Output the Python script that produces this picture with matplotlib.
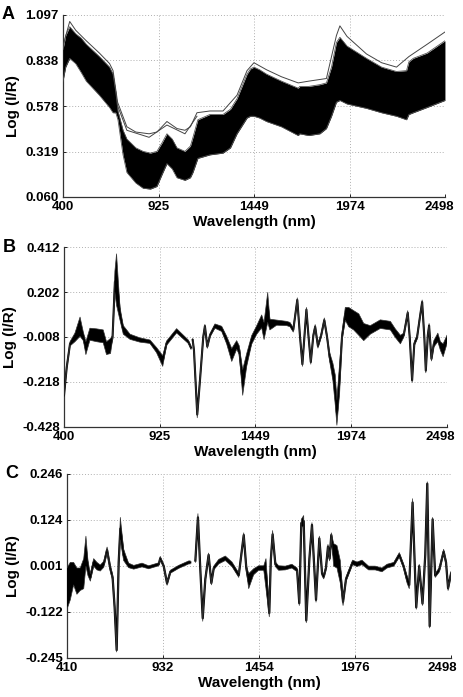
import numpy as np
import matplotlib
matplotlib.use("Agg")
import matplotlib.pyplot as plt
from matplotlib.transforms import ScaledTranslation

plt.rcParams['font.family'] = ['Liberation Sans', 'DejaVu Sans']
plt.rcParams['font.weight'] = 'bold'

# ---- panel A: raw spectra, read as band envelopes ----
a_wl = [400, 415, 437, 470, 500, 528, 600, 656, 675, 690, 702, 730, 751, 800, 840,
        880, 916, 945, 971, 1000, 1026, 1070, 1100, 1114, 1141, 1207, 1279, 1320,
        1356, 1411, 1430, 1449, 1480, 1518, 1600, 1692, 1701, 1750, 1811, 1847, 1875,
        1902, 1921, 1960, 2067, 2150, 2232, 2287, 2300, 2324, 2400, 2498]
a_upper = [0.90, 0.98, 1.03, 0.99, 0.965, 0.93, 0.86, 0.80, 0.76, 0.66, 0.55, 0.44,
           0.39, 0.34, 0.32, 0.31, 0.32, 0.37, 0.42, 0.39, 0.34, 0.32, 0.35, 0.40,
           0.50, 0.53, 0.53, 0.56, 0.62, 0.76, 0.79, 0.80, 0.785, 0.76, 0.72, 0.68,
           0.69, 0.69, 0.70, 0.71, 0.80, 0.94, 0.97, 0.92, 0.85, 0.80, 0.775, 0.78,
           0.83, 0.85, 0.88, 0.95]
a_lower = [0.72, 0.80, 0.85, 0.82, 0.77, 0.72, 0.64, 0.57, 0.54, 0.54, 0.50, 0.30,
           0.20, 0.14, 0.11, 0.105, 0.12, 0.19, 0.25, 0.22, 0.17, 0.155, 0.17, 0.20,
           0.28, 0.30, 0.31, 0.34, 0.42, 0.51, 0.52, 0.52, 0.51, 0.49, 0.46, 0.41,
           0.42, 0.41, 0.42, 0.45, 0.52, 0.60, 0.61, 0.59, 0.565, 0.54, 0.52, 0.50,
           0.53, 0.54, 0.57, 0.61]
# a few spectra lying above the main band
out_wl = [400, 437, 470, 528, 600, 656, 675, 700, 751, 800, 873, 916, 971, 1026,
          1070, 1100, 1136, 1207, 1279, 1356, 1411, 1449, 1518, 1600, 1692, 1750,
          1847, 1902, 1921, 1960, 2067, 2150, 2232, 2300, 2400, 2498]
out_1 = [0.92, 1.06, 1.01, 0.95, 0.88, 0.82, 0.78, 0.60, 0.46, 0.43, 0.42, 0.43,
         0.49, 0.45, 0.44, 0.46, 0.54, 0.55, 0.55, 0.64, 0.78, 0.825, 0.785, 0.745,
         0.71, 0.72, 0.735, 0.98, 1.035, 0.975, 0.875, 0.825, 0.80, 0.86, 0.93, 1.00]
out2_wl = [700, 751, 873, 971, 1070, 1136]
out_2 = [0.58, 0.44, 0.40, 0.47, 0.42, 0.52]

# ---- panel B: first pretreatment, centre line and half width ----
b_wl = [400, 415, 433, 460, 488, 506, 520, 542, 579, 615, 633, 655, 666, 679, 688,
        707, 725, 762, 816, 871, 907, 941, 962, 1017, 1081, 1096, 1100, 1105, 1112,
        1130, 1145, 1163, 1172, 1185, 1200, 1227, 1264, 1291, 1319, 1346, 1360, 1379,
        1401, 1428, 1456, 1483, 1496, 1516, 1528, 1565, 1620, 1638, 1656, 1678, 1693,
        1706, 1717, 1728, 1739, 1752, 1766, 1776, 1791, 1809, 1826, 1841, 1855, 1873,
        1886, 1895, 1910, 1923, 1941, 1960, 1987, 2015, 2042, 2078, 2133, 2188, 2215,
        2243, 2261, 2283, 2294, 2307, 2319, 2334, 2349, 2362, 2374, 2382, 2393, 2400,
        2413, 2426, 2448, 2462, 2477, 2498]
b_mid = [-0.28, -0.15, -0.04, -0.01, 0.04, -0.005, -0.06, 0.005, 0.0, -0.005, -0.06,
         -0.05, -0.01, 0.25, 0.26, 0.10, 0.025, -0.007, -0.022, -0.03, -0.069, -0.12,
         -0.037, 0.021, -0.03, -0.058, np.nan, -0.022, -0.069, -0.37, -0.209, -0.007,
         0.043, -0.053, 0.0, 0.043, 0.03, -0.022, -0.092, -0.045, -0.069, -0.22,
         -0.115, -0.022, 0.025, 0.065, 0.02, 0.13, 0.05, 0.059, 0.055, 0.05, 0.025,
         0.165, -0.007, -0.135, -0.007, 0.12, 0.0, -0.125, 0.0, 0.04, -0.05, 0.0,
         0.071, -0.007, -0.10, -0.17, -0.255, -0.36, -0.20, -0.007, 0.10, 0.085, 0.07,
         0.05, 0.015, 0.025, 0.052, 0.045, 0.01, -0.02, 0.0, 0.105, -0.01, -0.21,
         -0.04, -0.01, 0.08, 0.155, -0.01, -0.165, 0.0, 0.045, -0.11, -0.04, -0.01,
         -0.05, -0.07, -0.02]
b_hw = [0.01, 0.01, 0.01, 0.02, 0.045, 0.02, 0.03, 0.028, 0.03, 0.03, 0.03, 0.035,
        0.01, 0.05, 0.12, 0.03, 0.02, 0.012, 0.01, 0.008, 0.012, 0.025, 0.01, 0.01,
        0.008, 0.008, np.nan, 0.008, 0.01, 0.015, 0.01, 0.01, 0.008, 0.008, 0.008,
        0.01, 0.012, 0.018, 0.03, 0.02, 0.02, 0.06, 0.03, 0.02, 0.02, 0.03, 0.04,
        0.07, 0.025, 0.012, 0.01, 0.01, 0.01, 0.01, 0.01, 0.01, 0.01, 0.01, 0.01,
        0.01, 0.01, 0.01, 0.01, 0.01, 0.01, 0.01, 0.02, 0.04, 0.07, 0.06, 0.07, 0.02,
        0.03, 0.045, 0.045, 0.05, 0.04, 0.02, 0.02, 0.02, 0.02, 0.02, 0.01, 0.01,
        0.01, 0.01, 0.01, 0.01, 0.01, 0.01, 0.01, 0.01, 0.01, 0.01, 0.01, 0.015,
        0.02, 0.02, 0.03, 0.02]

# ---- panel C: second pretreatment, centre line and half width ----
c_wl = [410, 428, 446, 464, 482, 501, 513, 524, 537, 555, 573, 591, 610, 628, 645,
        658, 669, 680, 691, 700, 718, 745, 773, 818, 854, 909, 917, 936, 954, 972,
        1017, 1072, 1080, 1094, 1108, 1122, 1135, 1148, 1162, 1180, 1195, 1208, 1235,
        1271, 1307, 1344, 1371, 1385, 1398, 1425, 1452, 1480, 1492, 1510, 1518, 1528,
        1543, 1561, 1597, 1633, 1661, 1673, 1684, 1697, 1711, 1728, 1742, 1764, 1782,
        1797, 1806, 1818, 1829, 1838, 1847, 1860, 1878, 1896, 1911, 1927, 1951, 1963,
        1987, 2014, 2050, 2086, 2123, 2150, 2187, 2217, 2240, 2259, 2271, 2289, 2309,
        2325, 2343, 2358, 2369, 2382, 2398, 2412, 2434, 2458, 2471, 2482, 2498]
c_mid = [-0.06, -0.04, -0.02, -0.04, -0.035, -0.02, 0.04, -0.005, -0.03, 0.01, 0.0,
         -0.005, 0.005, 0.043, -0.005, -0.03, -0.11, -0.224, 0.01, 0.10, 0.03, 0.002,
         -0.003, 0.003, -0.003, 0.005, 0.021, 0.0, -0.046, -0.015, -0.002, 0.010,
         0.010, np.nan, 0.015, 0.13, -0.01, -0.139, -0.035, 0.030, -0.045, -0.005,
         0.012, 0.021, 0.005, -0.024, 0.083, -0.005, -0.04, -0.015, -0.005, -0.005,
         -0.02, -0.125, 0.015, 0.085, 0.005, -0.005, -0.005, 0.0, -0.01, -0.099,
         0.115, 0.12, -0.145, 0.02, 0.11, -0.09, 0.074, -0.02, -0.028, -0.005, 0.052,
         0.02, 0.083, 0.03, 0.025, -0.015, -0.095, -0.035, -0.005, 0.010, 0.005, 0.01,
         -0.005, -0.005, -0.01, 0.0, 0.005, 0.03, 0.0, -0.035, -0.05, 0.17, -0.11,
         0.0, -0.10, 0.03, 0.22, -0.16, 0.125, -0.025, -0.01, 0.039, 0.01, -0.059,
         -0.02]
c_hw = [0.055, 0.05, 0.03, 0.035, 0.03, 0.04, 0.04, 0.02, 0.01, 0.01, 0.01, 0.008,
        0.008, 0.008, 0.008, 0.008, 0.01, 0.005, 0.01, 0.03, 0.015, 0.006, 0.005,
        0.005, 0.004, 0.004, 0.005, 0.004, 0.005, 0.004, 0.004, 0.004, 0.004, np.nan,
        0.005, 0.01, 0.005, 0.008, 0.005, 0.005, 0.005, 0.005, 0.006, 0.006, 0.006,
        0.006, 0.006, 0.008, 0.02, 0.008, 0.006, 0.006, 0.04, 0.01, 0.01, 0.01,
        0.006, 0.006, 0.005, 0.005, 0.005, 0.006, 0.01, 0.015, 0.006, 0.006, 0.006,
        0.006, 0.006, 0.006, 0.006, 0.006, 0.006, 0.006, 0.006, 0.03, 0.03, 0.03,
        0.01, 0.006, 0.006, 0.006, 0.006, 0.006, 0.005, 0.005, 0.005, 0.005, 0.005,
        0.006, 0.006, 0.01, 0.01, 0.01, 0.005, 0.005, 0.005, 0.005, 0.005, 0.005,
        0.005, 0.005, 0.006, 0.006, 0.006, 0.006, 0.006]

a_yticks = [0.060, 0.319, 0.578, 0.838, 1.097]
b_yticks = [-0.428, -0.218, -0.008, 0.202, 0.412]
c_yticks = [-0.245, -0.122, 0.001, 0.124, 0.246]
ab_xticks = [400, 925, 1449, 1974, 2498]
c_xticks = [410, 932, 1454, 1976, 2498]


def style(ax, xticks, yticks, letter, last_shift):
    ax.set_xlim(xticks[0], xticks[-1])
    ax.set_ylim(yticks[0], yticks[-1])
    ax.set_xticks(xticks)
    ax.set_xticklabels([str(t) for t in xticks])
    ax.set_yticks(yticks)
    ax.set_yticklabels(['%.3f' % t for t in yticks])
    ax.grid(True, color='#b0b0b0', linestyle=(0, (1, 2)), linewidth=0.7)
    ax.tick_params(length=2, width=0.6, labelsize=9.5, pad=3, direction='in')
    for s in ['top', 'right']:
        ax.spines[s].set_visible(False)
    for s in ['left', 'bottom']:
        ax.spines[s].set_linewidth(0.9)
        ax.spines[s].set_color('#333333')
    ax.set_xlabel('Wavelength (nm)', fontsize=11, fontweight='bold', labelpad=1)
    ax.set_ylabel('Log (I/R)', fontsize=11, fontweight='bold', labelpad=4)
    ax.text(-0.16, 1.0, letter, transform=ax.transAxes, fontsize=13,
            fontweight='bold', va='center', ha='left')
    # the last wavelength label sits a little left of its tick, as in the source
    lab = ax.xaxis.get_major_ticks()[-1].label1
    lab.set_transform(lab.get_transform() +
                      ScaledTranslation(last_shift / 100, 0, ax.figure.dpi_scale_trans))


fig = plt.figure(figsize=(4.63, 6.97), dpi=100)
axA = fig.add_axes([0.136, 0.7174, 0.825, 0.2611])
axB = fig.add_axes([0.1382, 0.3874, 0.8272, 0.2582])
axC = fig.add_axes([0.1447, 0.0560, 0.8294, 0.2640])

# panel A
axA.fill_between(a_wl, a_lower, a_upper, color='black', linewidth=0, zorder=3)
axA.plot(a_wl, a_upper, color='#555555', lw=0.6, zorder=4)
axA.plot(a_wl, a_lower, color='#555555', lw=0.6, zorder=4)
axA.plot(out_wl, out_1, color='#444444', lw=0.7, zorder=4)
axA.plot(out2_wl, out_2, color='#444444', lw=0.7, zorder=4)
style(axA, ab_xticks, a_yticks, 'A', -6)

# panel B
bm = np.array(b_mid)
bh = np.array(b_hw)
axB.fill_between(b_wl, bm - bh, bm + bh, color='black', linewidth=0, zorder=3)
axB.plot(b_wl, bm, color='black', lw=1.5, zorder=4)
axB.plot(b_wl, bm + bh, color='#333333', lw=0.5, zorder=4)
axB.plot(b_wl, bm - bh, color='#333333', lw=0.5, zorder=4)
style(axB, ab_xticks, b_yticks, 'B', -7)

# panel C
cm = np.array(c_mid)
ch = np.array(c_hw)
axC.fill_between(c_wl, cm - ch, cm + ch, color='black', linewidth=0, zorder=3)
axC.plot(c_wl, cm, color='black', lw=1.6, zorder=4)
axC.plot(c_wl, cm + ch, color='#333333', lw=0.5, zorder=4)
axC.plot(c_wl, cm - ch, color='#333333', lw=0.5, zorder=4)
style(axC, c_xticks, c_yticks, 'C', -9)

fig.savefig('out.png', dpi=100)
